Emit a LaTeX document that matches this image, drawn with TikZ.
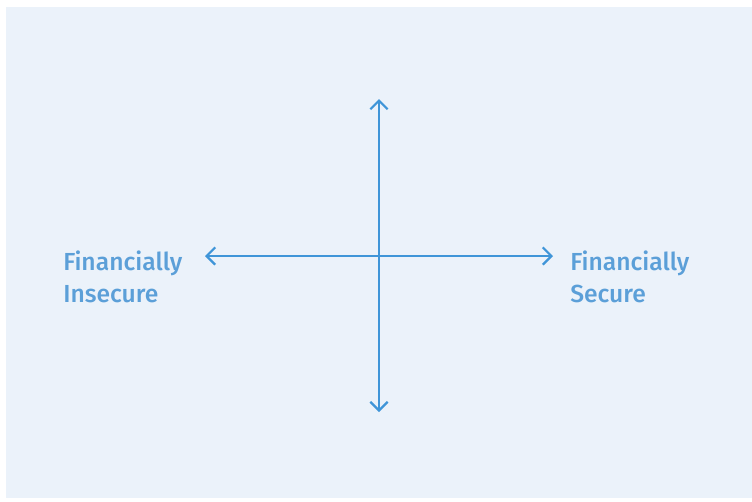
\documentclass[tikz,border=0pt]{standalone}
\usepackage{fontspec}
\setmainfont{Fira Sans}[UprightFont=* Medium]
\usetikzlibrary{arrows.meta}
\definecolor{bgc}{HTML}{EBF2FA}
\definecolor{linec}{HTML}{3F95D8}
\definecolor{textc}{HTML}{5B9FD8}
\tikzset{
  axis/.style={draw=linec, line width=1.9pt, {Straight Barb[length=6.5pt,width=13pt,line width=1.7pt]}-{Straight Barb[length=6.5pt,width=13pt,line width=1.7pt]}},
  lbl/.style={text=textc, font=\fontsize{18.5pt}{24pt}\selectfont, align=left, anchor=north west, inner sep=0pt}
}
\begin{document}
\begin{tikzpicture}[x=0.75pt,y=-0.75pt]
\useasboundingbox (0,0) rectangle (752,501);
\fill[bgc] (6,7) rectangle (752,498);
\coordinate (top) at (379,99);
\coordinate (bot) at (379,412);
\coordinate (lft) at (205,256);
\coordinate (rgt) at (553,256);
\draw[axis] (bot) -- (top);
\draw[axis] (lft) -- (rgt);
\node[lbl] (ins) at (63,251) {Financially\\Insecure};
\node[lbl] (sec) at (570,251) {Financially\\Secure};
\end{tikzpicture}
\end{document}
